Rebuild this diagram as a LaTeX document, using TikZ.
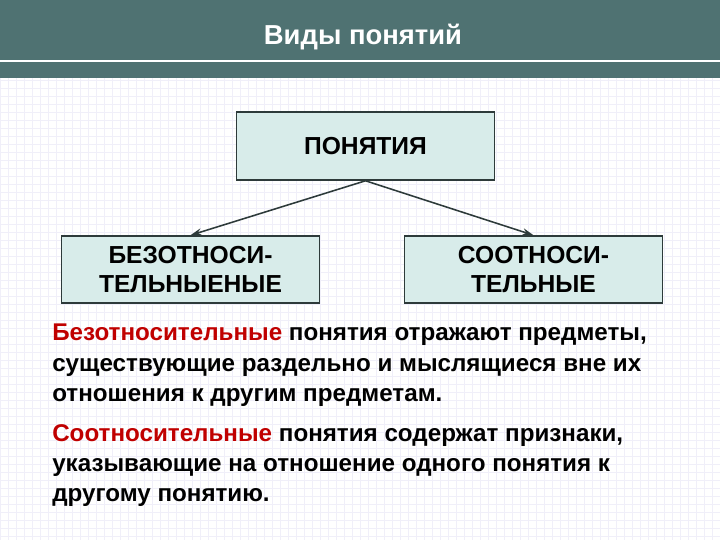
\documentclass[tikz,border=0pt]{standalone}
\usepackage{fontspec}
\setmainfont{Liberation Sans}
\usetikzlibrary{positioning}
\usetikzlibrary{arrows.meta}
\definecolor{band}{RGB}{79,114,114}
\definecolor{boxfill}{RGB}{216,236,234}
\definecolor{boxline}{RGB}{45,58,58}
\definecolor{gridc}{RGB}{240,239,249}
\definecolor{red}{RGB}{192,0,0}

\begin{document}
\begin{tikzpicture}[x=0.025cm, y=-0.025cm, >={Stealth[length=8pt,width=5pt]},
    kind/.style={rectangle, draw=boxline, line width=1.1pt, fill=boxfill, minimum width=6.45cm, minimum height=1.675cm, align=center, font=\fontsize{17.5}{20}\selectfont\bfseries},
    para/.style={anchor=north west, inner sep=0pt, align=left, font=\fontsize{17.2}{21.5}\selectfont\bfseries}]

    \useasboundingbox (0,0) rectangle (720,540);

    % Background grid
    \fill[white] (0,0) rectangle (720,540);
    \draw[gridc, line width=0.4pt, step=0.2cm] (0,78) grid (720,540);

    % Header
    \fill[band] (0,0) rectangle (720,78);
    \draw[white, line width=1.2pt] (0,61) -- (720,61);
    \node[text=white, font=\fontsize{19.5}{22}\selectfont\bfseries] (title) at (363,37) {Виды понятий};

    % Concept boxes
    \node[kind, minimum height=1.7cm] (top) at (365.5,146) {ПОНЯТИЯ};
    \node[kind] (left) at (190.5,269.5) {БЕЗОТНОСИ-\\ТЕЛЬНЫЕНЫЕ};
    \node[kind] (right) at (533.5,269.5) {СООТНОСИ-\\ТЕЛЬНЫЕ};
    \draw[->, boxline, line width=1.1pt] (top.south) -- (left.north);
    \draw[->, boxline, line width=1.1pt] (top.south) -- (right.north);

    % Definitions
    \node[para] (p1) at (52,324) {\textcolor{red}{Безотносительные} понятия отражают предметы,\\существующие раздельно и мыслящиеся вне их\\отношения к другим предметам.};
    \node[para] (p2) at (52,424) {\textcolor{red}{Соотносительные} понятия содержат признаки,\\указывающие на отношение одного понятия к\\другому понятию.};
\end{tikzpicture}
\end{document}
